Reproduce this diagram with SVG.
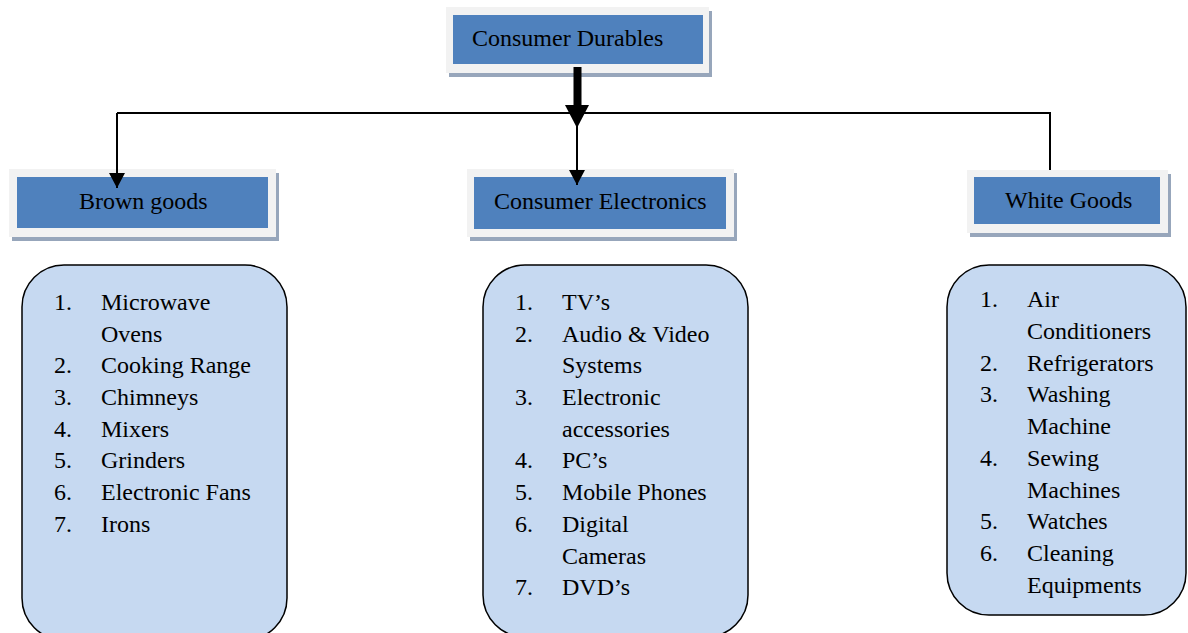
<svg xmlns="http://www.w3.org/2000/svg" width="1188" height="633" viewBox="0 0 1188 633">
<style>
.shadow{fill:#97A6BB}
.frame{fill:#F2F2F2}
.blue{fill:#4F81BD}
.list{fill:#C6D9F1;stroke:#000;stroke-width:1.5}
text{font-family:"Liberation Serif","Times New Roman",serif;font-size:24px;fill:#000}
.conn{stroke:#000;stroke-width:2;fill:none}
</style>
<defs>
<marker id="ah" markerUnits="userSpaceOnUse" markerWidth="16" markerHeight="16" viewBox="0 0 16 16" refX="15" refY="8" orient="auto">
<path d="M0,0 L15,8 L0,16 Z" fill="#000"/>
</marker>
</defs>
<rect width="1188" height="633" fill="#fff"/>
<g id="consumer-durables">
<rect class="shadow" x="449" y="11" width="263" height="66"/>
<rect class="frame" x="446" y="7" width="263" height="66"/>
<rect class="blue" x="453" y="15" width="250" height="49"/>
<text x="472" y="46">Consumer Durables</text>
</g>
<g id="brown-goods">
<rect class="shadow" x="12" y="173" width="267" height="68"/>
<rect class="frame" x="9" y="169" width="267" height="68"/>
<rect class="blue" x="17" y="177" width="251" height="51"/>
<text x="79" y="209">Brown goods</text>
</g>
<g id="consumer-electronics">
<rect class="shadow" x="470" y="173" width="267" height="68"/>
<rect class="frame" x="467" y="169" width="267" height="68"/>
<rect class="blue" x="474" y="177" width="252" height="52"/>
<text x="494" y="209">Consumer Electronics</text>
</g>
<g id="white-goods">
<rect class="shadow" x="970" y="174" width="201" height="63"/>
<rect class="frame" x="967" y="170" width="201" height="63"/>
<rect class="blue" x="974" y="177" width="186" height="47"/>
<text x="1005" y="208">White Goods</text>
</g>
<g id="brown-list">
<rect class="list" x="22" y="265" width="265" height="375" rx="42" ry="42"/>
<text x="54" y="310">1.</text><text x="101" y="310">Microwave</text>
<text x="101" y="342">Ovens</text>
<text x="54" y="373">2.</text><text x="101" y="373">Cooking Range</text>
<text x="54" y="405">3.</text><text x="101" y="405">Chimneys</text>
<text x="54" y="437">4.</text><text x="101" y="437">Mixers</text>
<text x="54" y="468">5.</text><text x="101" y="468">Grinders</text>
<text x="54" y="500">6.</text><text x="101" y="500">Electronic Fans</text>
<text x="54" y="532">7.</text><text x="101" y="532">Irons</text>
</g>
<g id="electronics-list">
<rect class="list" x="483" y="265" width="265" height="372" rx="42" ry="42"/>
<text x="515" y="310">1.</text><text x="562" y="310">TV’s</text>
<text x="515" y="342">2.</text><text x="562" y="342">Audio &amp; Video</text>
<text x="562" y="373">Systems</text>
<text x="515" y="405">3.</text><text x="562" y="405">Electronic</text>
<text x="562" y="437">accessories</text>
<text x="515" y="468">4.</text><text x="562" y="468">PC’s</text>
<text x="515" y="500">5.</text><text x="562" y="500">Mobile Phones</text>
<text x="515" y="532">6.</text><text x="562" y="532">Digital</text>
<text x="562" y="564">Cameras</text>
<text x="515" y="595">7.</text><text x="562" y="595">DVD’s</text>
</g>
<g id="white-list">
<rect class="list" x="947" y="265" width="239" height="350" rx="42" ry="42"/>
<text x="980" y="307">1.</text><text x="1027" y="307">Air</text>
<text x="1027" y="339">Conditioners</text>
<text x="980" y="371">2.</text><text x="1027" y="371">Refrigerators</text>
<text x="980" y="402">3.</text><text x="1027" y="402">Washing</text>
<text x="1027" y="434">Machine</text>
<text x="980" y="466">4.</text><text x="1027" y="466">Sewing</text>
<text x="1027" y="498">Machines</text>
<text x="980" y="529">5.</text><text x="1027" y="529">Watches</text>
<text x="980" y="561">6.</text><text x="1027" y="561">Cleaning</text>
<text x="1027" y="593">Equipments</text>
</g>
<g id="connectors">
<polyline class="conn" points="117,113 1050,113 1050,170"/>
<line class="conn" x1="117" y1="113" x2="117" y2="188" marker-end="url(#ah)"/>
<line class="conn" x1="577" y1="113" x2="577" y2="185" marker-end="url(#ah)"/>
<rect x="573.5" y="67" width="8" height="39" fill="#000"/>
<path d="M565,105 L589,105 L577,128 Z" fill="#000"/>
</g>
</svg>
